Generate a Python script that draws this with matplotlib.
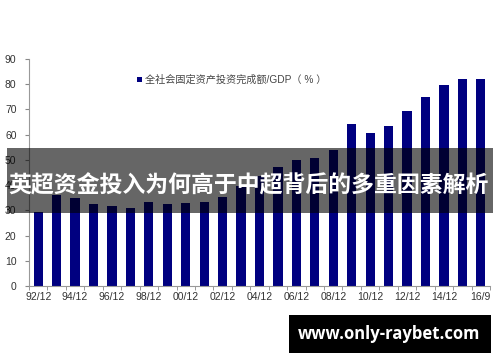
import numpy as np
import matplotlib
matplotlib.use("Agg")
import matplotlib.pyplot as plt
from matplotlib.patches import Rectangle

plt.rcParams['font.family'] = ['Liberation Sans', 'Noto Sans CJK SC', 'DejaVu Sans']

# data
years = ["92/12", "93/12", "94/12", "95/12", "96/12", "97/12", "98/12", "99/12",
         "00/12", "01/12", "02/12", "03/12", "04/12", "05/12", "06/12", "07/12",
         "08/12", "09/12", "10/12", "11/12", "12/12", "13/12", "14/12", "15/12", "16/9"]
ratio = [29.5, 36.1, 34.8, 32.4, 31.6, 31.1, 33.2, 32.7, 32.8, 33.3, 35.4, 39.6,
         43.5, 47.3, 50.0, 50.7, 54.0, 64.3, 60.8, 63.6, 69.3, 75.0, 79.8, 82.1, 82.1]
series_name = "全社会固定资产投资完成额/GDP（ % ）"
title = "英超资金投入为何高于中超背后的多重因素解析"
site = "www.only-raybet.com"

fig = plt.figure(figsize=(5, 3.62), dpi=100)
ax = fig.add_axes([29 / 500, 76 / 362, 461 / 500, 227 / 362])

x = np.arange(len(years))
ax.bar(x, ratio, width=0.5, color="#000080", label=series_name)

ax.set_xlim(-0.5, len(years) - 0.5)
ax.set_ylim(0, 90)
ax.set_yticks(np.arange(0, 91, 10))
shown = [i for i in range(len(years)) if i % 2 == 0]
ax.set_xticks(shown)
ax.set_xticklabels([years[i] for i in shown])
ax.set_xticks(np.arange(-0.5, len(years), 1), minor=True)
ax.tick_params(axis="x", which="major", length=0, pad=4, labelsize=7.5, colors="#333333")
ax.tick_params(axis="x", which="minor", length=3, color="#888888")
ax.tick_params(axis="y", length=3, color="#888888", labelsize=7.5, labelcolor="#333333", pad=6)
for s in ["top", "right"]:
    ax.spines[s].set_visible(False)
for s in ["left", "bottom"]:
    ax.spines[s].set_color("#999999")
    ax.spines[s].set_linewidth(0.8)

leg = ax.legend(loc="center left", bbox_to_anchor=(137 / 500, (362 - 80) / 362),
                bbox_transform=fig.transFigure, frameon=False, fontsize=7.3,
                handlelength=0.5, handleheight=0.5, handletextpad=0.25,
                borderpad=0, borderaxespad=0)
for t in leg.get_texts():
    t.set_color("#444444")

# dark banner with title
fig.patches.append(Rectangle((7 / 500, (362 - 213) / 362), 486 / 500, 65 / 362,
                             transform=fig.transFigure, facecolor="black",
                             alpha=0.6, edgecolor="none", zorder=5))
fig.text(0.498, (362 - 186) / 362, title, color="white", fontsize=16.5,
         fontweight="bold", ha="center", va="center",
         family=["Noto Sans CJK SC"], zorder=6)

# watermark box
fig.patches.append(Rectangle((289 / 500, (362 - 353) / 362), 202 / 500, 38 / 362,
                             transform=fig.transFigure, facecolor="black",
                             edgecolor="none", zorder=5))
fig.text(389 / 500, (362 - 334) / 362, site, color="white", fontsize=12,
         fontweight="bold", ha="center", va="center",
         family=["Open Sans", "DejaVu Sans"], zorder=6)

fig.savefig("out.png", dpi=100)
